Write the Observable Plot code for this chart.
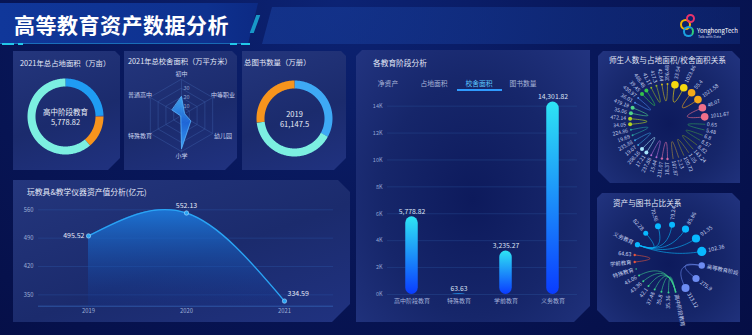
<!DOCTYPE html>
<html><head><meta charset="utf-8">
<script src="https://cdn.jsdelivr.net/npm/d3@7"></script>
<script src="https://cdn.jsdelivr.net/npm/@observablehq/plot@0.6"></script>
<style>
*{box-sizing:border-box}
html,body{margin:0;padding:0;background:#050f48;width:752px;height:335px;overflow:hidden}
#root{position:relative;width:752px;height:335px;overflow:hidden;font-family:"Noto Sans CJK SC","Noto Sans",sans-serif;
 background:radial-gradient(ellipse at 45% 0%, #0c2374 0%, #08175a 45%, #050e45 100%);}
.panel{position:absolute;background:linear-gradient(160deg,#24367d 0%,#1b2b6d 55%,#203280 100%);}
.dark{background:radial-gradient(ellipse at 50% 55%, #0d1a5c 0%, #16266a 55%, #223480 100%);}
.ttl{position:absolute;color:#e4e9f7;white-space:nowrap;line-height:1;transform:translateY(-50%)}
.chart{position:absolute}
.chart svg{display:block;overflow:visible;max-width:none}
.deco{position:absolute}
</style></head>
<body><div id="root">
 <div class="deco" style="left:0;top:3px;width:258px;height:41px;background:linear-gradient(90deg,#10379a 0%,#0e318f 80%,#0c2a84 100%);clip-path:polygon(0 0,100% 0,calc(100% - 10px) 100%,0 100%)"></div>
 <div class="deco" style="left:262px;top:7px;width:478px;height:37px;background:linear-gradient(90deg,rgba(24,62,156,0.6),rgba(18,48,130,0.45));clip-path:polygon(10px 0,100% 0,100% 100%,0 100%)"></div>
 <div class="deco" style="left:253px;top:15px;width:4px;height:18px;background:#1bb7e0;opacity:.8;transform:skewX(-20deg)"></div>
 <div class="deco" style="left:0;top:43px;width:250px;height:1px;background:rgba(40,180,230,0.45)"></div>
 <div class="deco" style="left:2px;top:43px;width:12px;height:2px;background:#22c8e8"></div>
 <div class="deco" style="left:18px;top:43px;width:5px;height:2px;background:#22c8e8"></div>
 <div class="deco" style="left:230px;top:43px;width:7px;height:2px;background:#22c8e8"></div>
 <div class="deco" style="left:241px;top:43px;width:9px;height:2px;background:#22c8e8"></div>
 <div class="ttl" style="left:14px;top:24px;font-size:21px;font-weight:bold;color:#fff;letter-spacing:0.5px">高等教育资产数据分析</div>
 <div class="deco" style="left:680px;top:19px;width:11px;height:11px;border:2.5px solid #f5b400;border-radius:50%"></div>
 <div class="deco" style="left:686px;top:14px;width:9px;height:9px;border:2px solid #e8336b;border-radius:50%"></div>
 <div class="deco" style="left:683px;top:26px;width:11px;height:11px;border:2.5px solid #1aa0e0;border-right-color:#2fd07a;border-radius:50%"></div>
 <div class="ttl" style="left:697px;top:31px;font-size:6px;color:#fff">YonghongTech</div>
 <div class="ttl" style="left:698px;top:37px;font-size:3.5px;color:#cfd8f0">Talk with Data</div>

 <div class="panel" style="left:13px;top:51px;width:107px;height:119px;clip-path:polygon(0 0,calc(100% - 5px) 0,100% 5px,100% calc(100% - 12px),calc(100% - 12px) 100%,0 100%)"></div>
 <div class="panel" style="left:124px;top:51px;width:113px;height:119px;clip-path:polygon(0 0,calc(100% - 5px) 0,100% 5px,100% calc(100% - 12px),calc(100% - 12px) 100%,0 100%)"></div>
 <div class="panel" style="left:242px;top:51px;width:104px;height:119px;clip-path:polygon(0 0,calc(100% - 5px) 0,100% 5px,100% calc(100% - 12px),calc(100% - 12px) 100%,0 100%)"></div>
 <div class="panel" style="left:13px;top:180px;width:337px;height:142px;clip-path:polygon(0 0,calc(100% - 12px) 0,100% 12px,100% calc(100% - 18px),calc(100% - 18px) 100%,0 100%)"></div>
 <div class="panel dark" style="left:356px;top:50px;width:234px;height:272px;clip-path:polygon(6px 0,100% 0,100% calc(100% - 16px),calc(100% - 16px) 100%,0 100%,0 6px)"></div>
 <div class="panel dark" style="left:598px;top:51px;width:142px;height:132px;clip-path:polygon(5px 0,calc(100% - 8px) 0,100% 8px,100% 100%,12px 100%,0 calc(100% - 12px),0 5px)"></div>
 <div class="panel dark" style="left:597px;top:193px;width:143px;height:129px;clip-path:polygon(5px 0,calc(100% - 8px) 0,100% 8px,100% 100%,12px 100%,0 calc(100% - 12px),0 5px)"></div>

 <div class="ttl" style="left:20px;top:63px;font-size:7.4px">2021年总占地面积（万亩）</div>
 <div class="ttl" style="left:128px;top:62px;font-size:7.3px">2021年总校舍面积（万平方米）</div>
 <div class="ttl" style="left:244px;top:62px;font-size:7.4px">总图书数量（万册）</div>
 <div class="ttl" style="left:27px;top:192px;font-size:7.8px">玩教具&amp;教学仪器资产值分析(亿元)</div>
 <div class="ttl" style="left:373px;top:63px;font-size:7.7px">各教育阶段分析</div>
 <div class="ttl" style="left:609px;top:60px;font-size:7.6px">师生人数与占地面积/校舍面积关系</div>
 <div class="ttl" style="left:613px;top:203px;font-size:7.6px">资产与图书占比关系</div>
 <div class="deco" style="left:457px;top:89px;width:45px;height:1.6px;background:#2f9bff"></div>
</div>
<script>
// ================= DATA =================
const stageNames  = ["高中阶段教育","特殊教育","学前教育","义务教育"];
const stageValues = [5778.82, 63.63, 3235.27, 14301.82];
const donut1Center = ["高中阶段教育", "5,778.82"];

const bookYears  = ["2019","2020","2021"];
const bookValues = [61147.5, 74800, 49600];
const donut3Center = ["2019", "61,147.5"];

const radarAxes   = ["初中","中等职业","幼儿园","小学","特殊教育","普通高中"];
const radarValues = [21, 4, 12, 37, 1, 12];
const radarRings  = [10, 20, 30, 40];
const radarRingLabels = [10, 20, 30];

const lineYears  = ["2019","2020","2021"];
const lineValues = [495.52, 552.13, 334.59];
const lineTicks  = [350, 420, 490, 560];

const barTabs  = ["净资产","占地面积","校舍面积","图书数量"];
const barActiveTab = "校舍面积";
const barTicks = [0, 2000, 4000, 6000, 8000, 10000, 12000, 14000];

// 师生人数与占地面积/校舍面积关系 : nodes in circle order, linked in pairs
const p6Labels = ["0.65","5.48","6.8","8.57","8.82","143.24","1.05","100.72","2.13","107.87",
  "18.37","231.07","15.44","237.88","17.21","208.16","19.07","235.88","19.69","224.86",
  "34.05","472.14","35.06","479.19","36.01","430.97","39.45","468.48","41.17","417.3",
  "42.64","396.48","33.54","1023.86","55.4","1021.58","46.07","1011.67"];

// 资产与图书占比关系 : nodes in circle order and their parent node
const p7Labels = ["高等教育阶段","275.9","313.12","高中阶段教育","35.36","35.8","37.48","42.1","43.36","43.06",
  "特殊教育","学前教育","64.63","义务教育","82.28","70.56","79.24","85.86","91.35","102.36"];
const p7Parent = [null,0,0,null,3,3,3,3,3,3,null,null,11,null,13,13,13,13,13,13];

// ================= STYLES =================
const FONT = '"Noto Sans CJK SC","Noto Sans",sans-serif';
const stageColors = ["#1f9cf3","#5b6fd6","#f7941d","#7cefe1"];
const bookColors  = ["#3ea9f5","#7cefe1","#f7941d"];
const p6PairColors = ["#2e9a5c","#3f8f48","#6f8e2a","#8a8a34","#a58a3e","#d46aa6","#b06ad0","#a8e4fa","#3a9ad8","#2aa0a0",
  "#b2d420","#4fd489","#4a86e6","#34c44a","#8fb424","#c4b424","#f5d80f","#f5a81a","#f0708a"];
const p6PairR = [0,0,0,0,0,1.2,1,2,1,1,2,2,1,2,1,1,3.8,3.8,3.8];
const p7Colors = ["#6d8cf2","#6d8cf2","#6d8cf2","#3ccf8e","#3ccf8e","#3ccf8e","#3ccf8e","#3ccf8e","#3ccf8e","#3ccf8e",
  "#3ccf8e","#e8553a","#e8553a","#08b8ff","#08b8ff","#08b8ff","#08b8ff","#08b8ff","#08b8ff","#08b8ff"];
const p7R = [3.2,3.6,4,1,1,1,1,1,1,1,0.8,1.2,1.2,2.6,2.5,3,3,3.6,4.1,4.6];

const root = document.getElementById("root");
const baseStyle = {background:"transparent", fontFamily:FONT, overflow:"visible"};
function place(svg, left, top, w, h){
  const d = document.createElement("div"); d.className = "chart";
  Object.assign(d.style, {left:left+"px", top:top+"px", width:w+"px", height:h+"px"});
  d.appendChild(svg); root.appendChild(d); return svg;
}
function addDefs(svg, html){
  const d = document.createElementNS("http://www.w3.org/2000/svg","defs");
  d.innerHTML = html; svg.insertBefore(d, svg.firstChild);
}
const rad = a => a*Math.PI/180;

// ---------- donuts ----------
function donut(names, values, colors, center, left, top){
  const W = 80, H = 80, R = 34;
  const total = d3.sum(values); let acc = 0; const pts = [];
  names.forEach((n,k)=>{
    const a0 = acc/total*360; acc += values[k]; const a1 = acc/total*360;
    const steps = Math.max(2, Math.ceil(a1-a0)+1);
    d3.range(steps).forEach(j=>{ const a = rad(a0+(a1-a0)*j/(steps-1)); pts.push({name:n, x:R*Math.sin(a), y:-R*Math.cos(a)}); });
  });
  const svg = Plot.plot({width:W, height:H, margin:0, style:baseStyle,
    x:{domain:[-W/2,W/2], range:[0,W], axis:null},
    y:{domain:[-H/2,H/2], range:[0,H], axis:null},
    color:{domain:names, range:colors},
    marks:[
      Plot.line(pts,{x:"x", y:"y", z:"name", stroke:"name", strokeWidth:8, strokeLinecap:"butt"}),
      Plot.text([center[0]],{x:d=>0, y:d=>-4, text:d=>d, fill:"#e8eef8", fontSize:7.5}),
      Plot.text([center[1]],{x:d=>0, y:d=>6, text:d=>d, fill:"#e8eef8", fontSize:7.5})
    ]});
  place(svg, left, top, W, H);
}
donut(stageNames, stageValues, stageColors, donut1Center, 25, 76);
donut(bookYears, bookValues, bookColors, donut3Center, 254, 78);

// ---------- radar ----------
{
  const W = 112, H = 100, cx = 56, cy = 47, S = 0.9;
  const ang = i => rad(i*360/radarAxes.length);
  const ringPts = radarRings.flatMap(v => radarAxes.map((a,i)=>({ring:v, x:v*S*Math.sin(ang(i)), y:-v*S*Math.cos(ang(i))})));
  const spokes = radarAxes.map((a,i)=>({x:d3.max(radarRings)*S*Math.sin(ang(i)), y:-d3.max(radarRings)*S*Math.cos(ang(i))}));
  const poly = radarAxes.map((a,i)=>({x:radarValues[i]*S*Math.sin(ang(i)), y:-radarValues[i]*S*Math.cos(ang(i))}));
  const labs = radarAxes.map((a,i)=>({name:a, x:48*Math.sin(ang(i)), y:-41*Math.cos(ang(i))}));
  const svg = Plot.plot({width:W, height:H, margin:0, style:baseStyle,
    x:{domain:[-cx, W-cx], range:[0,W], axis:null},
    y:{domain:[-cy, H-cy], range:[0,H], axis:null},
    marks:[
      Plot.line(ringPts,{x:"x", y:"y", z:"ring", curve:"linear-closed", stroke:"#3d5fa8", strokeOpacity:0.75, strokeWidth:0.6}),
      Plot.link(spokes,{x1:d=>0, y1:d=>0, x2:"x", y2:"y", stroke:"#3d5fa8", strokeOpacity:0.75, strokeWidth:0.6}),
      Plot.line(poly,{x:"x", y:"y", curve:"linear-closed", fill:"url(#radarGrad)", stroke:"#58b4ff", strokeWidth:0.8}),
      Plot.text(radarRingLabels,{x:d=>5, y:d=>-d*S, text:d=>String(d), fill:"#8ea0cc", fontSize:5.5}),
      Plot.text(labs,{x:"x", y:"y", text:"name", fill:"#c8d2ee", fontSize:6})
    ]});
  addDefs(svg, `<linearGradient id="radarGrad" x1="0" y1="0" x2="0" y2="1">
     <stop offset="0" stop-color="#46b8ff" stop-opacity="0.85"/><stop offset="0.5" stop-color="#1f6fe8" stop-opacity="0.85"/>
     <stop offset="1" stop-color="#3aa8ff" stop-opacity="0.9"/></linearGradient>`);
  place(svg, 125, 68, W, H);
}

// ---------- line / area chart ----------
{
  const W = 337, H = 124, yMin = 322, yMax = 580.5;
  const data = lineYears.map((y,i)=>({year:y, value:lineValues[i]}));
  const fmt = d3.format(".2f");
  const lab = {fill:"#e4e9f7", fontSize:7, text:d=>fmt(d.value), x:"year", y:"value"};
  const svg = Plot.plot({width:W, height:H, marginLeft:25, marginRight:17, marginTop:5, marginBottom:14.3, style:baseStyle,
    x:{type:"point", domain:lineYears, padding:0.5, axis:null},
    y:{domain:[yMin,yMax], axis:null},
    marks:[
      Plot.ruleY(lineTicks,{stroke:"#2d5bb0", strokeOpacity:0.55, strokeWidth:0.6}),
      Plot.text(lineTicks,{y:d=>d, text:d=>String(d), frameAnchor:"left", dx:-5, textAnchor:"end", fill:"#9eb0d8", fontSize:5.8}),
      Plot.ruleY([yMin],{stroke:"#3463b5", strokeWidth:0.8}),
      Plot.text(lineYears,{x:d=>d, text:d=>d, frameAnchor:"bottom", dy:7, fill:"#9eb0d8", fontSize:5.8}),
      Plot.areaY(data,{x:"year", y1:d=>yMin, y2:"value", curve:"natural", fill:"url(#areaGrad)"}),
      Plot.line(data,{x:"year", y:"value", curve:"natural", stroke:"#2aa4f4", strokeWidth:1.4}),
      Plot.dot(data,{x:"year", y:"value", r:2.2, fill:"#2aa4f4", stroke:"#a8dcff", strokeWidth:0.6}),
      Plot.text(data,{...lab, filter:(d,i)=>i===0, dx:-4, textAnchor:"end"}),
      Plot.text(data,{...lab, filter:(d,i)=>i===1, dy:-7}),
      Plot.text(data,{...lab, filter:(d,i)=>i===2, dx:3, dy:-7, textAnchor:"start"})
    ]});
  addDefs(svg, `<linearGradient id="areaGrad" x1="0" y1="0" x2="0" y2="1">
     <stop offset="0" stop-color="#1c7fe4" stop-opacity="0.85"/><stop offset="1" stop-color="#13348c" stop-opacity="0.2"/></linearGradient>`);
  place(svg, 13, 196, W, H);
}

// ---------- bar chart ----------
{
  const tabX = [388, 434, 479, 523];
  barTabs.forEach((t,i)=>{
    const d = document.createElement("div"); d.className = "ttl"; d.textContent = t;
    Object.assign(d.style, {left:tabX[i]+"px", top:"83px", fontSize:"6.8px", color: t===barActiveTab ? "#5ec8ff" : "#a8b4d8", transform:"translate(-50%,-50%)"});
    root.appendChild(d);
  });
  const W = 234, H = 226;
  const data = stageNames.map((n,i)=>({name:n, value:stageValues[i]}));
  const fmt = d3.format(",.2f");
  const svg = Plot.plot({width:W, height:H, marginLeft:31, marginRight:13, marginTop:4.2, marginBottom:20, style:baseStyle,
    x:{type:"band", domain:stageNames, padding:0, axis:null},
    y:{domain:[0,15000], axis:null},
    marks:[
      Plot.ruleY(barTicks,{stroke:"#2a4f98", strokeOpacity:0.7, strokeWidth:0.6}),
      Plot.text(barTicks,{y:d=>d, text:d=>d/1000+"K", frameAnchor:"left", dx:-5, textAnchor:"end", fill:"#93a5d3", fontSize:5.5}),
      Plot.barY(data,{x:"name", y:"value", fill:"url(#barGrad)", rx:6.5, insetLeft:17.25, insetRight:17.25}),
      Plot.text(data,{x:"name", y:"value", text:d=>fmt(d.value), dy:-5, fill:"#dde4f5", fontSize:6.8}),
      Plot.text(stageNames,{x:d=>d, text:d=>d, frameAnchor:"bottom", dy:8, fill:"#a5b3da", fontSize:6})
    ]});
  addDefs(svg, `<linearGradient id="barGrad" x1="0" y1="0" x2="0" y2="1">
     <stop offset="0" stop-color="#2ee4f4"/><stop offset="1" stop-color="#0a3cff"/></linearGradient>`);
  place(svg, 356, 88, W, H);
}

// ---------- circular graph helpers ----------
function circular(nodes, R, weight){
  const total = d3.sum(nodes, weight), unit = 360/total; let acc = 0;
  nodes.forEach(d=>{ const w = weight(d); d.ang = (90 + (acc + w/2)*unit) % 360; acc += w;
    d.x = R*Math.sin(rad(d.ang)); d.y = -R*Math.cos(rad(d.ang)); });
}
function bezier(a, b, c, id, color){
  const cx = (a.x+b.x)/2*(1-c), cy = (a.y+b.y)/2*(1-c);
  return d3.range(25).map(k=>{ const t = k/24, u = 1-t;
    return {id, color, x:u*u*a.x+2*u*t*cx+t*t*b.x, y:u*u*a.y+2*u*t*cy+t*t*b.y}; });
}
function labelPos(nodes, R, gap){
  return nodes.map(d=>{ const rr = R + d.r + gap;
    return {label:d.label, x:rr*Math.sin(rad(d.ang)), y:-rr*Math.cos(rad(d.ang)), right:d.ang<180, rot:d.ang<180 ? d.ang-90 : d.ang+90}; });
}

// ---------- panel 6 ----------
{
  const W = 141, H = 116, cx = 69, cy = 55, R = 37.5;
  const nodes = p6Labels.map((t,i)=>{ const p = Math.floor(i/2); return {label:t, pair:p, r:p6PairR[p], color:p6PairColors[p]}; });
  circular(nodes, R, d => d.r >= 3 ? 5 : 3);
  const links = d3.range(nodes.length/2).flatMap(p => bezier(nodes[2*p], nodes[2*p+1], 0.9, p, p6PairColors[p]));
  const labs = labelPos(nodes, R, 2);
  const svg = Plot.plot({width:W, height:H, margin:0, style:baseStyle,
    x:{domain:[-cx, W-cx], range:[0,W], axis:null},
    y:{domain:[-cy, H-cy], range:[0,H], axis:null},
    color:{type:"identity"}, r:{type:"identity"},
    marks:[
      Plot.line(links,{x:"x", y:"y", z:"id", stroke:"color", strokeWidth:0.7, strokeOpacity:0.9}),
      Plot.dot(nodes,{filter:d=>d.r>0, x:"x", y:"y", r:"r", fill:"color", stroke:"none"}),
      Plot.text(labs,{filter:d=>d.right, x:"x", y:"y", text:"label", rotate:"rot", textAnchor:"start", fill:"#c4d0ee", fontSize:5.2}),
      Plot.text(labs,{filter:d=>!d.right, x:"x", y:"y", text:"label", rotate:"rot", textAnchor:"end", fill:"#c4d0ee", fontSize:5.2})
    ]});
  place(svg, 598, 66, W, H);
}

// ---------- panel 7 ----------
{
  const W = 141, H = 112, cx = 70, cy = 50, R = 34;
  const nodes = p7Labels.map((t,i)=>({label:t, r:p7R[i], color:p7Colors[i]}));
  circular(nodes, R, d => d.r >= 2 ? 2 : 1);
  const links = p7Parent.flatMap((p,i)=> p===null ? [] : bezier(nodes[p], nodes[i], 0.9, i, p7Colors[i]));
  const labs = labelPos(nodes, R, 2);
  const svg = Plot.plot({width:W, height:H, margin:0, style:baseStyle,
    x:{domain:[-cx, W-cx], range:[0,W], axis:null},
    y:{domain:[-cy, H-cy], range:[0,H], axis:null},
    color:{type:"identity"}, r:{type:"identity"},
    marks:[
      Plot.line(links,{x:"x", y:"y", z:"id", stroke:"color", strokeWidth:0.8, strokeOpacity:0.75}),
      Plot.dot(nodes,{x:"x", y:"y", r:"r", fill:"color", stroke:"none"}),
      Plot.text(labs,{filter:d=>d.right, x:"x", y:"y", text:"label", rotate:"rot", textAnchor:"start", fill:"#c4d0ee", fontSize:5.4}),
      Plot.text(labs,{filter:d=>!d.right, x:"x", y:"y", text:"label", rotate:"rot", textAnchor:"end", fill:"#c4d0ee", fontSize:5.4})
    ]});
  place(svg, 598, 208, W, H);
}
</script>
</body></html>
